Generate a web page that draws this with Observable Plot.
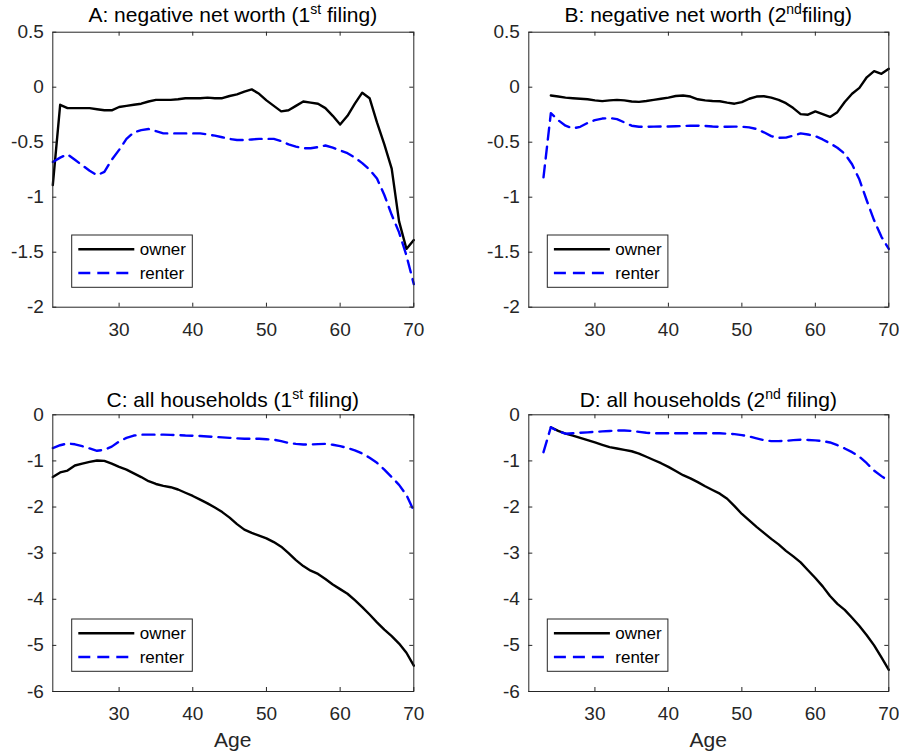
<!DOCTYPE html>
<html><head><meta charset="utf-8">
<script src="https://cdn.jsdelivr.net/npm/d3@7"></script>
<script src="https://cdn.jsdelivr.net/npm/@observablehq/plot@0.6"></script>
<style>
body{margin:0;background:#fff;}
#fig{position:relative;width:899px;height:755px;overflow:hidden;background:#fff;font-family:"Liberation Sans",Arial,Helvetica,sans-serif;}
.panel{position:absolute;}
#overlay{position:absolute;left:0;top:0;pointer-events:none;}
</style></head><body><div id="fig"></div>
<script>
// ---------- data ----------
const ages21 = [21,22,23,24,25,26,27,28,29,30,31,32,33,34,35,36,37,38,39,40,41,42,43,44,45,46,47,48,49,50,51,52,53,54,55,56,57,58,59,60,61,62,63,64,65,66,67,68,69,70];
const ages23 = [23,24,25,26,27,28,29,30,31,32,33,34,35,36,37,38,39,40,41,42,43,44,45,46,47,48,49,50,51,52,53,54,55,56,57,58,59,60,61,62,63,64,65,66,67,68,69,70];
const ages24 = [24,25,26,27,28,29,30,31,32,33,34,35,36,37,38,39,40,41,42,43,44,45,46,47,48,49,50,51,52,53,54,55,56,57,58,59,60,61,62,63,64,65,66,67,68,69,70];

const ownerA = [-0.89,-0.16,-0.19,-0.19,-0.19,-0.19,-0.20,-0.21,-0.21,-0.18,
  -0.17,-0.16,-0.15,-0.13,-0.115,-0.115,-0.115,-0.11,-0.10,-0.10,
  -0.10,-0.095,-0.10,-0.10,-0.08,-0.065,-0.04,-0.02,-0.06,-0.12,
  -0.17,-0.22,-0.21,-0.17,-0.13,-0.14,-0.15,-0.19,-0.26,-0.34,
  -0.26,-0.15,-0.05,-0.10,-0.32,-0.52,-0.74,-1.22,-1.47,-1.39];
const renterA = [-0.68,-0.64,-0.61,-0.66,-0.71,-0.76,-0.80,-0.77,-0.66,-0.57,
  -0.47,-0.41,-0.39,-0.38,-0.40,-0.42,-0.42,-0.42,-0.42,-0.42,
  -0.42,-0.43,-0.44,-0.455,-0.47,-0.48,-0.48,-0.475,-0.47,-0.47,
  -0.47,-0.49,-0.52,-0.54,-0.555,-0.555,-0.545,-0.53,-0.55,-0.575,
  -0.60,-0.64,-0.69,-0.75,-0.83,-0.98,-1.16,-1.32,-1.53,-1.79];
const ownerB = [-0.075,-0.085,-0.095,-0.10,-0.105,-0.11,-0.12,-0.127,-0.12,-0.115,
  -0.12,-0.13,-0.133,-0.125,-0.115,-0.105,-0.095,-0.08,-0.075,-0.085,
  -0.11,-0.12,-0.125,-0.128,-0.14,-0.15,-0.135,-0.105,-0.085,-0.082,
  -0.095,-0.115,-0.145,-0.19,-0.245,-0.25,-0.22,-0.245,-0.27,-0.227,
  -0.135,-0.06,-0.006,0.09,0.146,0.122,0.167];
const renterB = [-0.82,-0.236,-0.30,-0.35,-0.375,-0.36,-0.325,-0.30,-0.285,-0.28,
  -0.29,-0.32,-0.35,-0.36,-0.36,-0.358,-0.357,-0.357,-0.355,-0.353,
  -0.35,-0.35,-0.352,-0.357,-0.36,-0.36,-0.358,-0.36,-0.365,-0.38,
  -0.41,-0.445,-0.46,-0.458,-0.44,-0.42,-0.43,-0.445,-0.475,-0.51,
  -0.55,-0.605,-0.70,-0.84,-1.03,-1.21,-1.36,-1.47];
const ownerC = [-1.35,-1.25,-1.21,-1.10,-1.06,-1.02,-0.99,-1.00,-1.06,-1.13,
  -1.19,-1.27,-1.35,-1.44,-1.50,-1.54,-1.57,-1.62,-1.69,-1.76,
  -1.84,-1.92,-2.01,-2.11,-2.23,-2.37,-2.49,-2.56,-2.62,-2.68,
  -2.76,-2.86,-3.00,-3.15,-3.28,-3.38,-3.45,-3.56,-3.68,-3.78,
  -3.88,-4.02,-4.17,-4.33,-4.50,-4.66,-4.80,-4.96,-5.16,-5.44];
const renterC = [-0.72,-0.66,-0.62,-0.64,-0.68,-0.73,-0.78,-0.76,-0.69,-0.58,
  -0.50,-0.45,-0.43,-0.43,-0.43,-0.43,-0.435,-0.44,-0.45,-0.455,
  -0.46,-0.47,-0.48,-0.49,-0.50,-0.51,-0.52,-0.52,-0.52,-0.53,
  -0.54,-0.57,-0.61,-0.63,-0.645,-0.645,-0.635,-0.63,-0.65,-0.68,
  -0.72,-0.77,-0.84,-0.93,-1.04,-1.19,-1.35,-1.52,-1.74,-2.08];
const ownerD = [-0.27,-0.35,-0.41,-0.45,-0.50,-0.55,-0.60,-0.65,-0.70,-0.73,
  -0.76,-0.79,-0.84,-0.91,-0.98,-1.05,-1.13,-1.22,-1.31,-1.38,
  -1.46,-1.55,-1.63,-1.71,-1.82,-1.98,-2.15,-2.29,-2.43,-2.56,
  -2.69,-2.81,-2.95,-3.07,-3.20,-3.37,-3.54,-3.72,-3.93,-4.10,
  -4.23,-4.40,-4.58,-4.78,-5.00,-5.26,-5.53];
const renterD = [-0.81,-0.27,-0.36,-0.41,-0.40,-0.39,-0.38,-0.37,-0.36,-0.35,
  -0.34,-0.34,-0.35,-0.37,-0.39,-0.40,-0.40,-0.40,-0.40,-0.40,
  -0.40,-0.40,-0.40,-0.40,-0.40,-0.41,-0.42,-0.44,-0.47,-0.51,
  -0.55,-0.57,-0.57,-0.565,-0.55,-0.54,-0.545,-0.555,-0.57,-0.60,
  -0.66,-0.73,-0.81,-0.91,-1.05,-1.21,-1.33,-1.44];

const xTicks = [30,40,50,60,70];
const yTicksTop = [0.5,0,-0.5,-1,-1.5,-2];
const yTicksBottom = [0,-1,-2,-3,-4,-5,-6];
const seriesNames = ["owner","renter"];
const xLabelText = "Age";

// ---------- styles ----------
const FONT = '"Liberation Sans", Arial, Helvetica, sans-serif';
const AX = "#262626";
const OWNER_COLOR = "#000000";
const RENTER_COLOR = "#0000ff";
const LW = 2.4;
const DASH = "12,7";
const fig = document.getElementById("fig");

function toRows(ages, vals){ return ages.map((a,i)=>({age:a, v:vals[i]})); }

function panel(cfg){
  const innerW = cfg.width - cfg.mL - cfg.mR;
  const innerH = cfg.height - cfg.mT - cfg.mB;
  const TL = 4;
  const p = Plot.plot({
    width: cfg.width, height: cfg.height,
    marginLeft: cfg.mL, marginRight: cfg.mR, marginTop: cfg.mT, marginBottom: cfg.mB,
    style: {fontSize: "19px", fontFamily: FONT, color: AX, background: "transparent", overflow: "visible"},
    x: {domain: [21,70], label: null},
    y: {domain: cfg.yDomain, label: null},
    marks: [
      Plot.line(toRows(cfg.ownerAges, cfg.owner), {x:"age", y:"v", stroke: OWNER_COLOR, strokeWidth: LW, strokeLinejoin:"round"}),
      Plot.line(toRows(cfg.renterAges, cfg.renter), {x:"age", y:"v", stroke: RENTER_COLOR, strokeWidth: LW, strokeDasharray: DASH, strokeLinejoin:"round"}),
      Plot.tickX(xTicks, {x: d=>d, stroke: AX, insetTop: innerH - TL}),
      Plot.tickX(xTicks, {x: d=>d, stroke: AX, insetBottom: innerH - TL}),
      Plot.tickY(cfg.yTicks, {y: d=>d, stroke: AX, insetRight: innerW - TL}),
      Plot.tickY(cfg.yTicks, {y: d=>d, stroke: AX, insetLeft: innerW - TL}),
      Plot.axisX(xTicks, {tickSize: 0, tickPadding: 15, tickFormat: d=>String(d), label: null, fill: AX}),
      Plot.axisY(cfg.yTicks, {tickSize: 0, tickPadding: 9, tickFormat: d=>String(d), label: null, fill: AX}),
      Plot.frame({stroke: AX, strokeWidth: 1})
    ]
  });
  const div = document.createElement("div");
  div.className = "panel";
  div.style.left = cfg.left + "px";
  div.style.top = cfg.top + "px";
  div.appendChild(p);
  fig.appendChild(div);
}

panel({left:0, top:0, width:450, height:380, mL:52.3, mR:36.7, mT:31.7, mB:73.3,
  yDomain:[-2,0.5], yTicks:yTicksTop, owner:ownerA, ownerAges:ages21, renter:renterA, renterAges:ages21});
panel({left:450, top:0, width:449, height:380, mL:78.3, mR:10.7, mT:31.7, mB:73.3,
  yDomain:[-2,0.5], yTicks:yTicksTop, owner:ownerB, ownerAges:ages24, renter:renterB, renterAges:ages23});
panel({left:0, top:380, width:450, height:375, mL:52.3, mR:36.7, mT:34.3, mB:64,
  yDomain:[-6,0], yTicks:yTicksBottom, owner:ownerC, ownerAges:ages21, renter:renterC, renterAges:ages21});
panel({left:450, top:380, width:449, height:375, mL:78.3, mR:10.7, mT:34.3, mB:64,
  yDomain:[-6,0], yTicks:yTicksBottom, owner:ownerD, ownerAges:ages24, renter:renterD, renterAges:ages23});

// ---------- titles, legends, axis label (overlay) ----------
const titles = [
  {cx:232.8, y:21.7, pre:"A: negative net worth (1", sup:"st", post:" filing)"},
  {cx:708.3, y:21.7, pre:"B: negative net worth (2", sup:"nd", post:"filing)"},
  {cx:232.8, y:406.7, pre:"C: all households (1", sup:"st", post:" filing)"},
  {cx:708.3, y:406.7, pre:"D: all households (2", sup:"nd", post:" filing)"}
];
const legends = [
  {x:71.7, y:235}, {x:547.3, y:235}, {x:71.7, y:619}, {x:547.3, y:619}
];
let s = `<svg id="overlay" width="899" height="755" xmlns="http://www.w3.org/2000/svg" font-family='${FONT}'>`;
for (const t of titles) {
  s += `<text x="${t.cx}" y="${t.y}" text-anchor="middle" font-size="21" fill="#000">${t.pre}<tspan dy="-8" font-size="14">${t.sup}</tspan><tspan dy="8">${t.post}</tspan></text>`;
}
for (const L of legends) {
  const w = 120.6, h = 52.3;
  s += `<rect x="${L.x}" y="${L.y}" width="${w}" height="${h}" fill="#fff" stroke="${AX}" stroke-width="1"/>`;
  const y1 = L.y + 14.3, y2 = L.y + 38;
  s += `<line x1="${L.x+6.6}" x2="${L.x+62.6}" y1="${y1}" y2="${y1}" stroke="${OWNER_COLOR}" stroke-width="${LW}"/>`;
  s += `<line x1="${L.x+6.6}" x2="${L.x+62.6}" y1="${y2}" y2="${y2}" stroke="${RENTER_COLOR}" stroke-width="${LW}" stroke-dasharray="${DASH}"/>`;
  s += `<text x="${L.x+68}" y="${y1}" dy="0.35em" font-size="17" fill="#000">${seriesNames[0]}</text>`;
  s += `<text x="${L.x+68}" y="${y2}" dy="0.35em" font-size="17" fill="#000">${seriesNames[1]}</text>`;
}
s += `<text x="232.8" y="746.7" text-anchor="middle" font-size="21" fill="${AX}">${xLabelText}</text>`;
s += `<text x="708.3" y="746.7" text-anchor="middle" font-size="21" fill="${AX}">${xLabelText}</text>`;
s += `</svg>`;
fig.insertAdjacentHTML("beforeend", s);
</script></body></html>
